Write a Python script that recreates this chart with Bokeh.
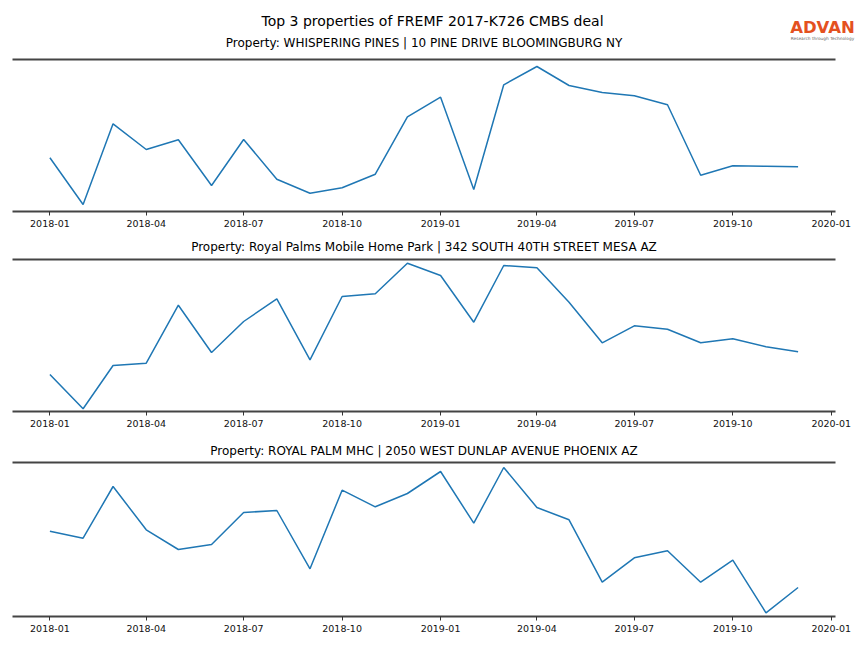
import pandas as pd
from bokeh.plotting import figure
from bokeh.models import Range1d, LinearAxis, DatetimeTickFormatter, FixedTicker, Label
from bokeh.layouts import column
from bokeh.embed import file_html
from bokeh.resources import INLINE

# ---------------- data ----------------
months = ["2018-01", "2018-02", "2018-03", "2018-04", "2018-05", "2018-06",
          "2018-07", "2018-08", "2018-09", "2018-10", "2018-11", "2018-12",
          "2019-01", "2019-02", "2019-03", "2019-04", "2019-05", "2019-06",
          "2019-07", "2019-08", "2019-09", "2019-10", "2019-11", "2019-12"]

tick_labels = ["2018-01", "2018-04", "2018-07", "2018-10", "2019-01",
               "2019-04", "2019-07", "2019-10", "2020-01"]

main_title = "Top 3 properties of FREMF 2017-K726 CMBS deal"
property_titles = [
    "Property: WHISPERING PINES | 10 PINE DRIVE BLOOMINGBURG NY",
    "Property: Royal Palms Mobile Home Park | 342 SOUTH 40TH STREET MESA AZ",
    "Property: ROYAL PALM MHC | 2050 WEST DUNLAP AVENUE PHOENIX AZ",
]

whispering_pines = [537, 70, 877, 620, 717, 260, 720, 323, 183, 237, 373, 947,
                    1143, 220, 1267, 1450, 1260, 1190, 1157, 1067, 363, 457, 452, 447]
royal_palms_mesa = [370, 27, 460, 483, 1063, 590, 900, 1127, 517, 1150, 1177, 1483,
                    1360, 893, 1460, 1437, 1093, 687, 857, 823, 687, 727, 647, 597]
royal_palm_phoenix = [853, 783, 1300, 867, 670, 720, 1040, 1060, 477, 1263, 1097, 1230,
                      1450, 933, 1490, 1090, 967, 343, 587, 657, 343, 563, 37, 290]

series = [whispering_pines, royal_palms_mesa, royal_palm_phoenix]
y_limits = [(0, 1520), (0, 1520), (0, 1540)]

# ---------------- style ----------------
FONT = "DejaVu Sans"
SPINE = "#444444"
LINE = "#1f77b4"
W = 856
BL, BR = 12, 21          # left / right borders around the plotting frame

dates = pd.to_datetime(months)
tick_dates = pd.to_datetime(tick_labels)
span = dates.max() - dates.min()
x_start = (dates.min() - span * 0.05).to_pydatetime()
x_end = (dates.max() + span * 0.05).to_pydatetime()
tick_ms = [t.timestamp() * 1000 for t in tick_dates]


def blank(height, full=False):
    if full:
        # header: opt out of frame alignment so its frame spans the whole width
        f = figure(width=W, height=height, x_range=Range1d(0, W), y_range=Range1d(0, height),
                   x_axis_type=None, y_axis_type=None, output_backend="svg",
                   toolbar_location=None, min_border=0, title=None)
        f.frame_align = False
    else:
        # the column aligns frames, so the frame spans [BL, W - BR] in page pixels
        f = figure(width=W, height=height, x_range=Range1d(BL, W - BR),
                   y_range=Range1d(0, height), x_axis_type=None, y_axis_type=None,
                   output_backend="svg", toolbar_location=None, min_border=0,
                   min_border_left=BL, min_border_right=BR, title=None)
    f.outline_line_color = None
    return f


def title_label(text, x, y, size):
    return Label(x=x, y=y, text=text, text_align="center", text_baseline="middle",
                 text_font=FONT, text_font_size=size, text_color="black")


def make_panel(values, ylim, height, b_top, b_bottom):
    p = figure(width=W, height=height, x_axis_type="datetime", y_axis_type=None,
               x_range=Range1d(x_start, x_end), y_range=Range1d(*ylim),
               output_backend="svg", toolbar_location=None, title=None,
               min_border_left=BL, min_border_right=BR,
               min_border_top=b_top, min_border_bottom=b_bottom)
    p.outline_line_color = None
    p.xgrid.visible = False
    p.ygrid.visible = False

    ax = p.xaxis[0]
    ax.ticker = FixedTicker(ticks=tick_ms)
    ax.formatter = DatetimeTickFormatter(days="%Y-%m", months="%Y-%m", years="%Y-%m")
    ax.axis_line_color = SPINE
    ax.axis_line_width = 2
    ax.major_tick_line_color = "#333333"
    ax.major_tick_out = 4
    ax.major_tick_in = 0
    ax.minor_tick_line_color = None
    ax.major_label_text_font = FONT
    ax.major_label_text_font_size = "9.5px"
    ax.major_label_text_color = "#111111"
    ax.major_label_standoff = 4

    top = LinearAxis(ticker=FixedTicker(ticks=[]), axis_line_color=SPINE, axis_line_width=2,
                     major_tick_line_color=None, minor_tick_line_color=None,
                     major_tick_out=0, major_tick_in=0, major_label_standoff=0)
    p.add_layout(top, "above")

    p.line(dates, values, line_color=LINE, line_width=1.5)
    return p


# header: main title, first property title and logo
header = blank(50, full=True)
header.add_layout(title_label(main_title, 432, 30, "14px"))
header.add_layout(title_label(property_titles[0], 423.5, 8, "12px"))
header.add_layout(Label(x=822, y=23, text="ADVAN", text_align="center",
                        text_baseline="middle", text_font=FONT, text_font_style="bold",
                        text_font_size="16.5px", text_color="#E4511F"))
header.add_layout(Label(x=822, y=12, text="Research through Technology",
                        text_align="center", text_baseline="middle",
                        text_font=FONT, text_font_size="4.3px", text_color="#666666"))

p1 = make_panel(series[0], y_limits[0], 185, 9, 24)

t2 = blank(20)
t2.add_layout(title_label(property_titles[1], 423.5, 9, "12px"))
p2 = make_panel(series[1], y_limits[1], 183, 4, 27)

t3 = blank(20)
t3.add_layout(title_label(property_titles[2], 423.5, 8, "12px"))
p3 = make_panel(series[2], y_limits[2], 182, 4, 24)

layout = column(header, p1, t2, p2, t3, p3, spacing=0)
open("out.html", "w").write(file_html(layout, INLINE))
